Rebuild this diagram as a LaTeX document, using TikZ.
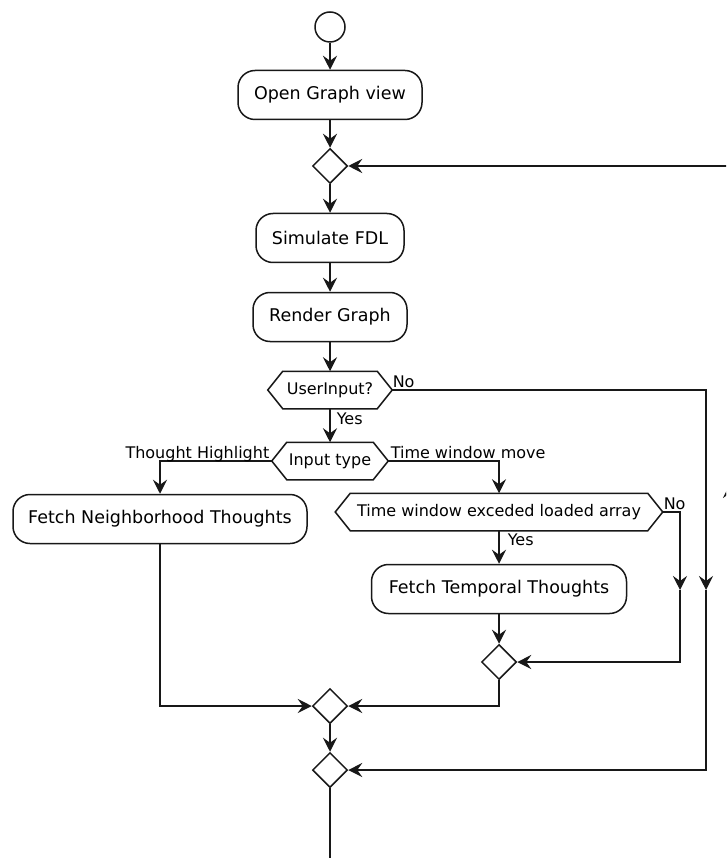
\documentclass[tikz,border=0pt]{standalone}
\usepackage{fontspec}
\setmainfont{DejaVu Sans}
\usetikzlibrary{shapes.geometric,arrows.meta,calc}
\definecolor{ln}{HTML}{181818}
\newcommand\hexdraw[1]{%
  \draw (#1.north west) -- (#1.north east) -- ($(#1.east)+(15,0)$) -- (#1.south east)
        -- (#1.south west) -- ($(#1.west)+(-15,0)$) -- cycle;
  \coordinate (#1E) at ($(#1.east)+(15,0)$);
  \coordinate (#1W) at ($(#1.west)+(-15,0)$);}
\begin{document}
\begin{tikzpicture}[x=1pt,y=-1pt,line width=1.5pt,color=ln,text=black,
  arr/.style={-{Stealth[length=14pt,width=14pt,inset=5pt]}},
  actbox/.style={draw, rounded corners=17pt, minimum height=49pt, inner sep=0pt,
    font=\fontsize{17.5}{20}\selectfont},
  merge/.style={draw, diamond, minimum width=35pt, minimum height=35pt, inner sep=0pt},
  hexcore/.style={minimum height=36pt, inner sep=0pt, font=\fontsize{16}{19}\selectfont},
  lbl/.style={font=\fontsize{16}{19}\selectfont, inner sep=0pt}]
\useasboundingbox (0,0) rectangle (726,858);
\clip (0,0) rectangle (726,858);
\fill[white] (0,0) rectangle (726,858);

\node[circle, draw, minimum size=30pt, inner sep=0pt] (start) at (330,27) {};
\node[actbox, minimum width=184pt] (open) at (330,95) {Open Graph view};
\node[merge] (d1) at (330,166) {};
\node[actbox, minimum width=148pt] (sim) at (330,238) {Simulate FDL};
\node[actbox, minimum width=154pt] (render) at (330,317) {Render Graph};
\node[hexcore, minimum width=93pt] (u) at (330,390) {UserInput?};
\hexdraw{u}
\node[hexcore, minimum width=85pt] (it) at (330,461) {Input type};
\hexdraw{it}
\node[actbox, minimum width=294pt] (fn) at (160,519) {Fetch Neighborhood Thoughts};
\node[hexcore, minimum width=296pt] (tw) at (499,512) {Time window exceded loaded array};
\hexdraw{tw}
\node[actbox, minimum width=255pt] (tp) at (499,589) {Fetch Temporal Thoughts};
\node[merge] (d2) at (499,662) {};
\node[merge] (d3) at (330,706) {};
\node[merge] (d4) at (330,770) {};

\coordinate (nR) at (706,590);
\coordinate (tR) at (680,590);
\coordinate (endp) at (330,870);
\coordinate (lpA) at (730,530);
\coordinate (lpB) at (730,484);

\draw[arr] (start) -- (open);
\draw[arr] (open) -- (d1);
\draw[arr] (d1) -- (sim);
\draw[arr] (sim) -- (render);
\draw[arr] (render) -- (u);
\draw[arr] (u) -- (it);
\draw[arr] (uE) -| (nR);
\draw[arr] (nR) |- (d4);
\draw[arr] (itW) -| (fn);
\draw[arr] (itE) -| (tw);
\draw[arr] (tw) -- (tp);
\draw[arr] (twE) -| (tR);
\draw[arr] (tR) |- (d2);
\draw[arr] (tp) -- (d2);
\draw[arr] (fn) |- (d3);
\draw[arr] (d2) |- (d3);
\draw[arr] (d3) -- (d4);
\draw (d4) -- (endp);
\draw[arr] (lpA) -- (lpB);
\draw[arr] (lpB) |- (d1);

\node[lbl, anchor=base west] at (336,424) {Yes};
\node[lbl, anchor=base west] at (392,387) {No};
\node[lbl, anchor=base east] at (270,458) {Thought Highlight};
\node[lbl, anchor=base west] at (390,458) {Time window move};
\node[lbl, anchor=base west] at (663,509) {No};
\node[lbl, anchor=base west] at (507,545) {Yes};
\end{tikzpicture}
\end{document}
